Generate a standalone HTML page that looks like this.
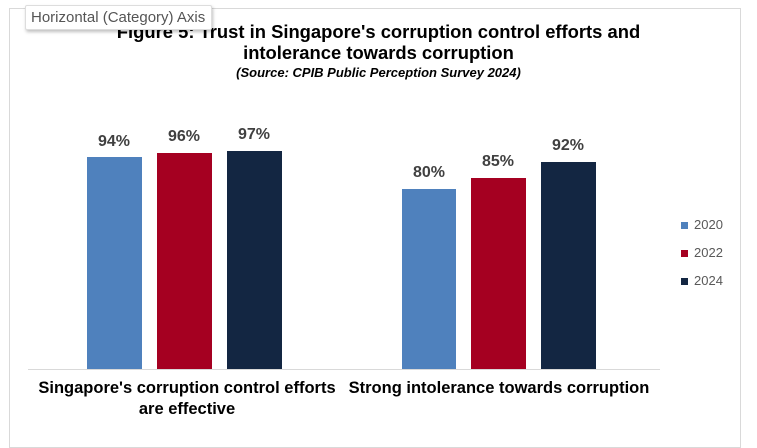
<!DOCTYPE html>
<html><head><style>
body{margin:0;width:757px;height:439px;background:#fff;position:relative;overflow:hidden;font-family:"Liberation Sans",Arial,sans-serif}
.a{position:absolute}
.bar{position:absolute;bottom:70px}
.v{position:absolute;width:80px;text-align:center;font-weight:bold;font-size:16px;color:#404040}
.c1{background:#4f81bd}.c2{background:#a50021}.c3{background:#132642}
.cat{position:absolute;font-weight:bold;font-size:16.5px;color:#000;text-align:center;line-height:21px}
.lg{position:absolute;left:681px;width:7px;height:7px}
.lt{position:absolute;left:694px;font-size:13px;color:#595959}
</style></head><body>
<div class="a" style="left:9px;top:8px;width:732px;height:440px;border:1px solid #d9d9d9;box-sizing:border-box"></div>
<div class="a" style="left:0;top:21px;width:757px;text-align:center;font-weight:bold;font-size:18.4px;line-height:21px;color:#000;padding-left:0px">Figure 5: Trust in Singapore's corruption control efforts and<br>intolerance towards corruption</div>
<div class="a" style="left:0;top:65px;width:757px;text-align:center;font-weight:bold;font-style:italic;font-size:13px;color:#000">(Source: CPIB Public Perception Survey 2024)</div>
<div class="a" style="left:25px;top:5px;width:187px;height:25px;background:#fff;border:1px solid #ddd;border-radius:2px;box-shadow:1px 2px 3px rgba(0,0,0,.25);font-size:15px;color:#555;line-height:24px;padding-left:5px;box-sizing:border-box;white-space:nowrap">Horizontal (Category) Axis</div>
<div class="a" style="left:28px;top:369px;width:632px;height:1px;background:#d9d9d9"></div>
<div class="bar c1" style="left:87px;top:157px;width:55px;height:212px"></div>
<div class="bar c2" style="left:157px;top:153px;width:55px;height:216px"></div>
<div class="bar c3" style="left:227px;top:151px;width:55px;height:218px"></div>
<div class="bar c1" style="left:402px;top:189px;width:54px;height:180px"></div>
<div class="bar c2" style="left:471px;top:178px;width:55px;height:191px"></div>
<div class="bar c3" style="left:541px;top:162px;width:55px;height:207px"></div>
<div class="v" style="left:74px;top:133px">94%</div>
<div class="v" style="left:144px;top:128px">96%</div>
<div class="v" style="left:214px;top:126px">97%</div>
<div class="v" style="left:389px;top:164px">80%</div>
<div class="v" style="left:458px;top:153px">85%</div>
<div class="v" style="left:528px;top:137px">92%</div>
<div class="cat" style="left:22px;top:378px;width:330px">Singapore's corruption control efforts<br>are effective</div>
<div class="cat" style="left:334px;top:378px;width:330px">Strong intolerance towards corruption</div>
<div class="lg c1" style="top:222px"></div><div class="lt" style="top:217px">2020</div>
<div class="lg c2" style="top:250px"></div><div class="lt" style="top:245px">2022</div>
<div class="lg c3" style="top:278px"></div><div class="lt" style="top:273px">2024</div>
</body></html>
